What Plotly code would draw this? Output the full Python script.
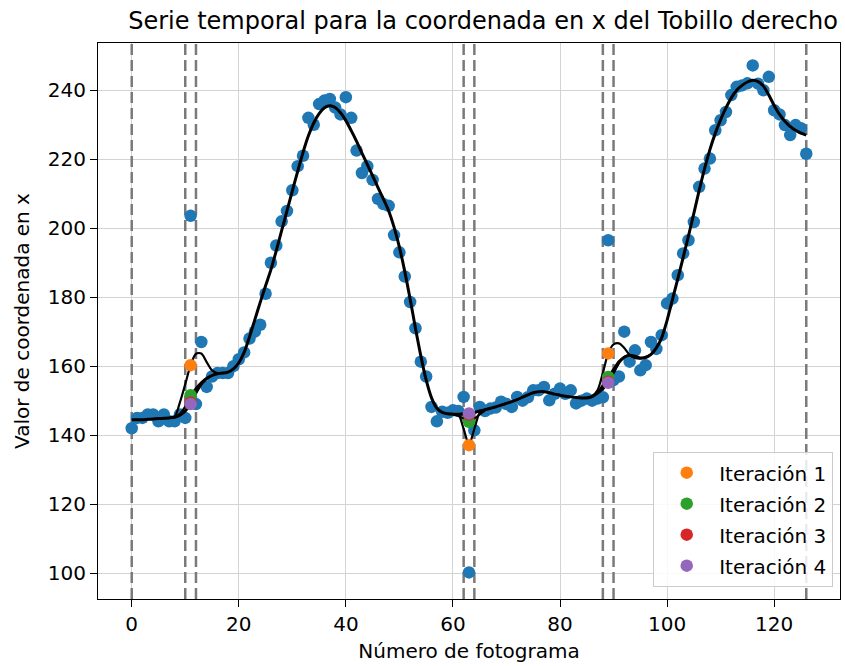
import plotly.graph_objects as go

# ---------------- data ----------------
frames = list(range(127))

values = [
    142.0, 145.0, 145.0, 146.0, 146.0, 144.0, 146.0, 144.0, 144.0, 146.0,   # 0-9
    145.0, 203.6, 149.0, 167.0, 154.0, 157.0, 158.0, 158.0, 158.0, 160.0,   # 10-19
    162.0, 164.0, 168.0, 170.0, 172.0, 181.0, 190.0, 195.0, 202.0, 205.0,   # 20-29
    211.0, 218.0, 221.0, 232.0, 230.0, 236.0, 237.0, 237.5, 235.0, 233.0,   # 30-39
    238.0, 232.0, 222.5, 216.0, 218.0, 214.0, 208.5, 207.0, 206.5, 198.0,   # 40-49
    193.0, 186.0, 178.6, 171.0, 161.3, 157.0, 148.2, 144.0, 146.8, 146.5,   # 50-59
    147.2, 147.0, 151.1, 100.2, 141.4, 148.2, 147.0, 147.7, 148.0, 149.7,   # 60-69
    149.0, 148.2, 151.1, 150.0, 151.0, 153.0, 153.0, 154.0, 150.1, 152.0,   # 70-79
    153.5, 152.0, 153.0, 149.2, 150.0, 150.6, 150.0, 150.6, 151.0, 196.5,   # 80-89
    156.0, 157.0, 170.0, 161.3, 164.6, 158.8, 160.3, 167.0, 165.0, 169.0,   # 90-99
    178.2, 179.6, 186.4, 192.7, 196.5, 201.8, 212.0, 217.3, 220.2, 228.4,   # 100-109
    231.3, 233.7, 238.6, 241.0, 241.4, 242.0, 247.2, 241.9, 240.0, 243.9,   # 110-119
    234.2, 233.0, 229.9, 227.0, 229.9, 229.0, 221.6,                        # 120-126
]

# final smoothed curve (iteration 4), one value per frame
smooth_final = [
    144.5, 144.5, 144.5, 144.6, 144.7, 144.8, 144.9, 145.0, 145.2, 145.8,
    147.0, 149.2, 152.3, 154.8, 156.4, 157.3, 157.8, 158.0, 158.3, 159.2,
    161.0, 164.0, 168.5, 173.5, 178.5, 183.3, 188.0, 193.5, 199.3, 205.0,
    210.8, 216.5, 222.0, 226.8, 230.5, 233.2, 234.9, 235.5, 235.0, 233.5,
    231.2, 228.3, 225.2, 221.8, 218.5, 215.2, 211.8, 208.5, 205.0, 200.3,
    194.5, 187.5, 179.5, 171.0, 163.0, 156.0, 150.8, 147.8, 146.6, 146.2,
    146.1, 146.1, 146.2, 146.3, 146.6, 147.0, 147.4, 147.8, 148.2, 148.7,
    149.2, 149.7, 150.3, 151.0, 151.7, 152.3, 152.6, 152.6, 152.3, 151.9,
    151.6, 151.3, 151.1, 150.9, 150.8, 150.8, 151.2, 152.2, 153.5, 155.3,
    158.2, 161.0, 162.6, 163.2, 162.9, 162.4, 162.5, 163.4, 165.3, 168.3,
    173.3, 179.3, 185.3, 191.5, 197.8, 204.3, 211.0, 217.3, 222.8, 227.5,
    231.5, 234.9, 237.8, 240.0, 241.4, 242.4, 242.9, 242.5, 241.2, 238.6,
    235.6, 233.0, 231.0, 229.5, 228.4, 227.6, 227.0,
]

# local pieces of the earlier smoothed curves (where they differ from the final one)
iter1_curve_x = [[7, 8, 9, 10, 11, 12, 13, 14, 15, 16, 17],
                 [59, 60, 61, 62, 63, 64, 65, 66, 67],
                 [85, 86, 87, 88, 89, 90, 91, 92, 93, 94, 95, 96, 97]]
iter1_curve_y = [[145.0, 145.3, 149.5, 154.8, 160.3, 163.6, 163.7, 161.2, 158.8, 158.0, 158.0],
                 [146.2, 146.1, 146.0, 141.8, 137.3, 141.8, 146.5, 147.4, 147.8],
                 [150.8, 151.3, 153.0, 158.0, 163.7, 166.3, 166.6, 165.3, 163.3, 162.4, 162.2, 162.7, 163.4]]
iter2_curve_x = [[8, 9, 10, 11, 12, 13, 14, 15],
                 [60, 61, 62, 63, 64, 65, 66],
                 [86, 87, 88, 89, 90, 91, 92, 93]]
iter2_curve_y = [[145.2, 146.2, 148.3, 151.6, 153.6, 155.3, 156.6, 157.3],
                 [146.1, 145.6, 144.8, 143.9, 144.8, 146.0, 147.2],
                 [151.2, 152.5, 154.5, 156.9, 159.2, 161.4, 162.7, 163.2]]
iter3_curve_x = [[9, 10, 11, 12, 13],
                 [61, 62, 63, 64, 65],
                 [87, 88, 89, 90, 91]]
iter3_curve_y = [[145.8, 147.1, 149.4, 152.4, 154.8],
                 [146.1, 146.1, 146.0, 146.5, 147.0],
                 [152.2, 153.6, 155.5, 158.3, 161.0]]

iter_frames = [11, 63, 89]
iter_values = {
    "Iteración 1": [160.3, 137.1, 163.7],
    "Iteración 2": [151.6, 143.9, 156.9],
    "Iteración 3": [149.4, 146.0, 155.5],
    "Iteración 4": [149.0, 146.3, 155.2],
}
iter_colors = ["#ff7f0e", "#2ca02c", "#d62728", "#9467bd"]

vlines = [0, 10, 12, 62, 64, 88, 90, 126]

x_range = [-6.3, 132.3]
y_range = [92.5, 253.7]
x_ticks = [0, 20, 40, 60, 80, 100, 120]
y_ticks = [100, 120, 140, 160, 180, 200, 220, 240]

# ---------------- figure ----------------
FONT = "DejaVu Sans"
fig = go.Figure()

# vertical dashed markers (above the grid, below the data)
for v in vlines:
    fig.add_trace(go.Scatter(
        x=[v, v], y=y_range, mode="lines",
        line=dict(color="#7a7a7a", width=2.5, dash="11px,5px"),
        showlegend=False, hoverinfo="skip"))

fig.add_trace(go.Scatter(
    x=frames, y=values, mode="markers",
    marker=dict(color="#1f77b4", size=12.5, line=dict(width=0)),
    showlegend=False, hoverinfo="skip"))

for xs_list, ys_list in [(iter1_curve_x, iter1_curve_y),
                         (iter2_curve_x, iter2_curve_y),
                         (iter3_curve_x, iter3_curve_y)]:
    for xs, ys in zip(xs_list, ys_list):
        fig.add_trace(go.Scatter(
            x=xs, y=ys, mode="lines", line=dict(color="black", width=2.2, shape="spline", smoothing=0.8),
            showlegend=False, hoverinfo="skip"))

fig.add_trace(go.Scatter(
    x=frames, y=smooth_final, mode="lines",
    line=dict(color="black", width=3, shape="spline", smoothing=0.8),
    showlegend=False, hoverinfo="skip"))

for (name, vals), col in zip(iter_values.items(), iter_colors):
    fig.add_trace(go.Scatter(
        x=iter_frames, y=vals, mode="markers", name=name, legendgroup=name,
        marker=dict(color=col, size=12.5, symbol="circle", line=dict(width=0))))

axis_common = dict(
    showline=True, linecolor="black", linewidth=1.2, mirror=True,
    ticks="outside", ticklen=7, tickwidth=1.2, tickcolor="black",
    showgrid=True, gridcolor="#d3d3d3", gridwidth=1.2, zeroline=False,
    tickfont=dict(family=FONT, size=20, color="black"),
)

fig.update_layout(
    width=845, height=666,
    margin=dict(l=98, r=5, t=43, b=67),
    plot_bgcolor="white", paper_bgcolor="white",
    font=dict(family=FONT, size=20, color="black"),
    title=dict(text="Serie temporal para la coordenada en x del Tobillo derecho",
               x=0.519, xref="paper", xanchor="center",
               y=1 - 21 / 666, yref="container", yanchor="middle",
               font=dict(family=FONT, size=24, color="black")),
    xaxis=dict(range=x_range, tickvals=x_ticks,
               title=dict(text="Número de fotograma", standoff=8,
                          font=dict(family=FONT, size=20, color="black")),
               **axis_common),
    yaxis=dict(range=y_range, tickvals=y_ticks,
               title=dict(text="Valor de coordenada en x", standoff=12,
                          font=dict(family=FONT, size=20, color="black")),
               **axis_common),
    legend=dict(x=0.9906, y=0.0216, xanchor="right", yanchor="bottom",
                bgcolor="rgba(255,255,255,0.85)", bordercolor="#cccccc", borderwidth=1.2,
                font=dict(family=FONT, size=20, color="black"),
                tracegroupgap=2, itemwidth=55),
)

fig.write_html("out.html")
